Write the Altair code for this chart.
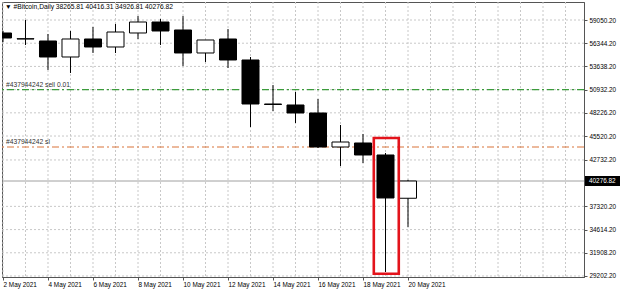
import altair as alt
import pandas as pd

# ---- data ----
dates = ["2 May 2021", "3 May 2021", "4 May 2021", "5 May 2021", "6 May 2021",
         "7 May 2021", "8 May 2021", "9 May 2021", "10 May 2021", "11 May 2021",
         "12 May 2021", "13 May 2021", "14 May 2021", "15 May 2021", "16 May 2021",
         "17 May 2021", "18 May 2021", "19 May 2021", "20 May 2021"]
opens  = [57536, 56836, 56603, 54738, 56836, 55904, 57536, 58818, 57886, 55204,
          56836, 54388, 49257, 49141, 48208, 44244, 44710, 43311, 38265.81]
highs  = [57769, 59052, 57419, 57769, 58235, 58585, 59518, 59168, 59518, 56720,
          58002, 54738, 51473, 50657, 49840, 46809, 45759, 43544, 40416.31]
lows   = [56486, 56137, 53222, 52872, 55204, 55204, 56836, 56137, 53688, 54155,
          53455, 46576, 48441, 47042, 44127, 42028, 42378, 29669, 34926.81]
closes = [56953, 56870, 54738, 56836, 55904, 57652, 58818, 57769, 55204, 56720,
          54388, 49257, 49200, 48208, 44244, 44826, 43311, 38300, 40276.82]

price_ticks = [29202.20, 31908.20, 34614.20, 37320.20, 42732.20, 45520.20,
               48226.20, 50932.20, 53638.20, 56344.20, 59050.20]
date_tick_days = [0, 2, 4, 6, 8, 10, 12, 14, 16, 18]
grid_days = list(range(0, 26))

current_price = 40276.82
order_prices = [50932.20, 44244.0]
order_labels = ["#437944242 sell 0.01", "#437944242 sl"]
order_colors = ["#3c9c3c", "#d9743a"]
highlight = {"day_start": 16.48, "day_end": 17.59, "top": 45293, "bottom": 29470}

title_text = "\u25bc #Bitcoin,Daily  38265.81 40416.31 34926.81 40276.82"

# ---- tables ----
df = pd.DataFrame({"day": list(range(len(dates))), "date": dates,
                   "open": opens, "high": highs, "low": lows, "close": closes})
df["bull"] = df["close"] >= df["open"]
df["x0"] = df["day"] - 0.378
df["x1"] = df["day"] + 0.378

FONT = "Liberation Sans"
FS = 6.4
FS_TXT = 6.7
X_DOMAIN = [-0.0444, 25.822]
Y_DOMAIN = [29085, 61150]

xs = alt.Scale(domain=X_DOMAIN, nice=False, zero=False)
ys = alt.Scale(domain=Y_DOMAIN, nice=False, zero=False)

label_arr = "[" + ",".join("'" + d + "'" for d in dates) + "]"

x_axis = alt.Axis(values=date_tick_days, labelExpr=label_arr + "[datum.value]",
                  labelAlign="left", labelPadding=1, tickSize=3, grid=False,
                  domain=True, domainColor="#555555", tickColor="#555555",
                  labelFont=FONT, labelFontSize=FS, labelColor="#000000",
                  title=None, labelFlush=False, labelOverlap=False)
y_axis = alt.Axis(orient="right", values=price_ticks, format=".2f",
                  tickSize=3, labelPadding=2, grid=False, domain=True,
                  domainColor="#555555", tickColor="#555555",
                  labelFont=FONT, labelFontSize=FS, labelColor="#000000",
                  title=None, labelOverlap=False, labelFlush=False)

base = alt.Chart(df)

# grids
vgrid = alt.Chart(pd.DataFrame({"day": grid_days})).mark_rule(
    color="#c8c8c8", strokeDash=[2, 2], strokeWidth=1, clip=True).encode(
    x=alt.X("day:Q", scale=xs, axis=x_axis))
hgrid = alt.Chart(pd.DataFrame({"p": price_ticks})).mark_rule(
    color="#c8c8c8", strokeDash=[2, 2], strokeWidth=1, clip=True).encode(
    y=alt.Y("p:Q", scale=ys, axis=y_axis))

# current price line
cur_df = pd.DataFrame({"p": [current_price], "t": [f"{current_price:.2f}"]})
cur_line = alt.Chart(cur_df).mark_rule(color="#a0a0a0", strokeWidth=1, clip=True).encode(
    y=alt.Y("p:Q", scale=ys, axis=y_axis))

# order lines
ol_layers = []
for price, lab, col in zip(order_prices, order_labels, order_colors):
    odf = pd.DataFrame({"price": [price], "label": [lab], "day": [0]})
    ol_layers.append(alt.Chart(odf).mark_rule(
        strokeDash=[7, 3, 2, 3], strokeWidth=1.2, color=col, clip=True).encode(
        y=alt.Y("price:Q", scale=ys, axis=y_axis)))
    ol_layers.append(alt.Chart(odf).mark_text(
        align="left", baseline="bottom", dx=3, dy=-2, font=FONT, fontSize=FS_TXT,
        color="#303030", clip=True).encode(
        x=alt.X("day:Q", scale=xs, axis=x_axis),
        y=alt.Y("price:Q", scale=ys, axis=y_axis), text="label:N"))

# candles
wicks = base.mark_rule(color="#000000", strokeWidth=1, clip=True).encode(
    x=alt.X("day:Q", scale=xs, axis=x_axis),
    y=alt.Y("low:Q", scale=ys, axis=y_axis), y2="high:Q")
bodies = base.mark_rect(stroke="#000000", strokeWidth=1, clip=True).encode(
    x=alt.X("x0:Q", scale=xs, axis=x_axis), x2="x1:Q",
    y=alt.Y("open:Q", scale=ys, axis=y_axis), y2="close:Q",
    fill=alt.condition("datum.bull", alt.value("#ffffff"), alt.value("#000000")))

# highlight box
hl_df = pd.DataFrame([highlight])
hl = alt.Chart(hl_df).mark_rect(fillOpacity=0, stroke="#e3131b",
                                strokeWidth=2.6, clip=True).encode(
    x=alt.X("day_start:Q", scale=xs, axis=x_axis), x2="day_end:Q",
    y=alt.Y("top:Q", scale=ys, axis=y_axis), y2="bottom:Q")

# current price label on right axis
cur_box = alt.Chart(cur_df).mark_rect(height=10, fill="#000000").encode(
    x=alt.value(583), x2=alt.value(618), y=alt.Y("p:Q", scale=ys, axis=y_axis))
cur_text = alt.Chart(cur_df).mark_text(align="left", baseline="middle",
                                       font=FONT, fontSize=FS, color="#ffffff").encode(
    x=alt.value(587), y=alt.Y("p:Q", scale=ys, axis=y_axis), text="t:N")

chart = alt.layer(
    vgrid, hgrid, cur_line, *ol_layers, wicks, bodies, hl, cur_box, cur_text
).properties(
    width=582, height=275,
    autosize="none",
    padding={"left": 2, "top": 2, "right": 36, "bottom": 14},
    title=alt.Title(title_text, anchor="start", offset=-9, dx=3, font=FONT,
                    fontSize=FS_TXT, fontWeight="normal", color="#000000",
                    frame="group"),
).configure_view(stroke="#555555", strokeWidth=1).configure_axis(
    labelOverlap=False, labelFlush=False)

chart.save("out.html", embed_options={"renderer": "svg", "actions": False})
